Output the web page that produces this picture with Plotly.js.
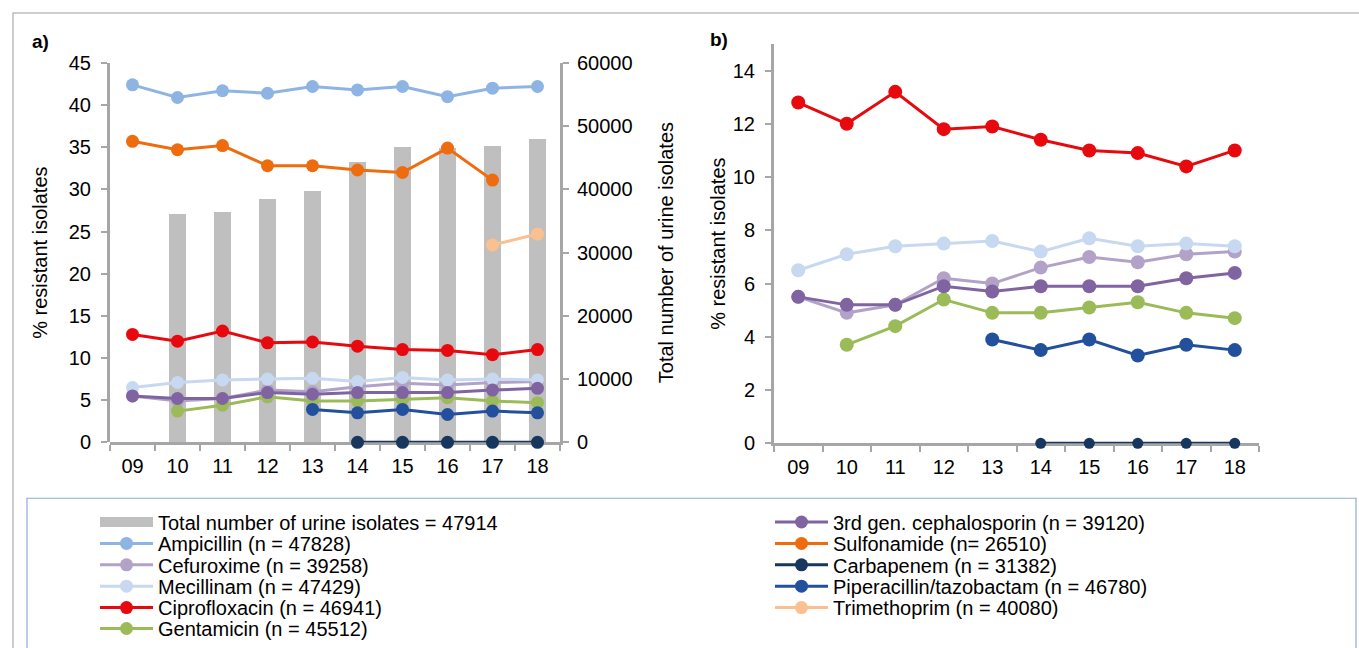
<!DOCTYPE html>
<html>
<head>
<meta charset="utf-8">
<script src="https://cdn.plot.ly/plotly-3.0.1.min.js"></script>
<style>
  html, body { margin: 0; padding: 0; background: #fff; }
  #chart { width: 1359px; height: 648px; }
</style>
</head>
<body>
<div id="chart"></div>
<script>
// Years of surveillance (two-digit labels)
const years = ['09', '10', '11', '12', '13', '14', '15', '16', '17', '18'];

// Total number of urine isolates per year (right axis of panel a)
const totalIsolates = [null, 36100, 36400, 38500, 39800, 44300, 46700, 46500, 46900, 47914];

// % resistant isolates per antibiotic
const ampicillin    = [42.4, 40.9, 41.7, 41.4, 42.2, 41.8, 42.2, 41.0, 42.0, 42.2];
const cefuroxime    = [5.5, 4.9, 5.2, 6.2, 6.0, 6.6, 7.0, 6.8, 7.1, 7.2];
const mecillinam    = [6.5, 7.1, 7.4, 7.5, 7.6, 7.2, 7.7, 7.4, 7.5, 7.4];
const ciprofloxacin = [12.8, 12.0, 13.2, 11.8, 11.9, 11.4, 11.0, 10.9, 10.4, 11.0];
const gentamicin    = [null, 3.7, 4.4, 5.4, 4.9, 4.9, 5.1, 5.3, 4.9, 4.7];
const cephalosporin3 = [5.5, 5.2, 5.2, 5.9, 5.7, 5.9, 5.9, 5.9, 6.2, 6.4];
const sulfonamide   = [35.7, 34.7, 35.2, 32.8, 32.8, 32.3, 32.0, 34.9, 31.1, null];
const carbapenem    = [null, null, null, null, null, 0, 0, 0, 0, 0];
const piperacillinTazobactam = [null, null, null, null, 3.9, 3.5, 3.9, 3.3, 3.7, 3.5];
const trimethoprim  = [null, null, null, null, null, null, null, null, 23.4, 24.7];

// Legend labels
const totalLabel = 'Total number of urine isolates = 47914';
const series = [
  { name: 'Ampicillin (n = 47828)',              y: ampicillin,    color: '#8DB4E2', inB: false },
  { name: 'Cefuroxime (n = 39258)',              y: cefuroxime,    color: '#B3A2C7', inB: true },
  { name: 'Mecillinam (n = 47429)',              y: mecillinam,    color: '#C6D9F1', inB: true },
  { name: 'Ciprofloxacin (n = 46941)',           y: ciprofloxacin, color: '#E8090F', inB: true },
  { name: 'Gentamicin (n = 45512)',              y: gentamicin,    color: '#9BBB59', inB: true },
  { name: '3rd gen. cephalosporin (n = 39120)',  y: cephalosporin3, color: '#8064A2', inB: true },
  { name: 'Sulfonamide (n= 26510)',              y: sulfonamide,   color: '#EE6C0E', inB: false },
  { name: 'Carbapenem (n = 31382)',              y: carbapenem,    color: '#17375E', inB: true, smallB: true },
  { name: 'Piperacillin/tazobactam (n = 46780)', y: piperacillinTazobactam, color: '#23509C', inB: true },
  { name: 'Trimethoprim (n = 40080)',            y: trimethoprim,  color: '#FAC090', inB: false }
];

const W = 1359, H = 648;
const px = v => v / W;
const py = v => 1 - v / H;

const FONT = 'Liberation Sans, Arial, Helvetica, sans-serif';
const AXIS_GREY = '#A6A6A6';

const traces = [];

// Bars: total isolates, panel a, right axis (drawn in the first subplot, under the lines)
traces.push({
  type: 'bar', x: years, y: totalIsolates,
  xaxis: 'x', yaxis: 'y',
  width: 0.38,
  marker: { color: '#BFBFBF' },
  showlegend: false, hoverinfo: 'x+y'
});

// Legend entry for the bars (wide grey swatch); holds no visible point
traces.push({
  type: 'scatter', mode: 'lines', x: [null], y: [null],
  xaxis: 'x3', yaxis: 'y2',
  name: totalLabel,
  line: { color: '#BFBFBF', width: 10 },
  legend: 'legend', showlegend: true, hoverinfo: 'skip'
});

// Legend layout: left column then right column
const legendSlots = [];
const rowY0 = 522, rowStep = 21.4;
for (let i = 0; i < 6; i++) legendSlots.push({ x: 95, y: rowY0 + i * rowStep });
for (let i = 0; i < 5; i++) legendSlots.push({ x: 770, y: rowY0 + i * rowStep });

series.forEach((s, i) => {
  const legendId = 'legend' + (i + 2);
  // panel a: percentage lines in their own subplot stacked over the bars
  traces.push({
    type: 'scatter', mode: 'lines+markers', x: years, y: s.y,
    xaxis: 'x3', yaxis: 'y2',
    name: s.name,
    line: { color: s.color, width: 3 },
    marker: { color: s.color, size: 13 },
    legend: legendId, showlegend: true,
    connectgaps: false, cliponaxis: false
  });
  // panel b
  if (s.inB) {
    traces.push({
      type: 'scatter', mode: 'lines+markers', x: years, y: s.y,
      xaxis: 'x2', yaxis: 'y3',
      name: s.name,
      line: { color: s.color, width: 3 },
      marker: { color: s.color, size: s.smallB ? 11 : 14 },
      showlegend: false, cliponaxis: false
    });
  }
});

const tickFont = { family: FONT, size: 20, color: '#000' };
const titleFont = { family: FONT, size: 20, color: '#000' };

const baseAxis = {
  showline: true, linecolor: AXIS_GREY, linewidth: 3,
  ticks: 'outside', ticklen: 6, tickwidth: 2, tickcolor: AXIS_GREY,
  showgrid: false, zeroline: false, layer: 'below traces',
  tickfont: tickFont, fixedrange: true
};

const panelAx = [px(110), px(560)];
const panelAy = [py(443), py(63)];

const layout = {
  width: W, height: H,
  margin: { l: 0, r: 0, t: 0, b: 0 },
  paper_bgcolor: '#fff', plot_bgcolor: 'rgba(0,0,0,0)',
  font: { family: FONT, size: 20, color: '#000' },
  bargap: 0,
  // panel a, category axis carrying the year labels
  xaxis: Object.assign({}, baseAxis, {
    domain: panelAx, anchor: 'y',
    type: 'category', tickson: 'boundaries', ticklabelstandoff: 4,
    range: [-0.5, 9.5]
  }),
  // panel a, right axis for the totals
  yaxis: Object.assign({}, baseAxis, {
    domain: panelAy, anchor: 'x', side: 'right',
    range: [0, 60000], dtick: 10000, tickformat: 'd', ticklabelstandoff: 4,
    title: { text: 'Total number of urine isolates', font: titleFont, standoff: 28 }
  }),
  // panel a, hidden twin of the year axis for the percentage lines
  xaxis3: {
    domain: panelAx, anchor: 'y2', type: 'category', visible: false,
    range: [-0.5, 9.5], fixedrange: true
  },
  // panel a, left axis for percentages
  yaxis2: Object.assign({}, baseAxis, {
    domain: panelAy, anchor: 'x3', side: 'left',
    range: [0, 45], dtick: 5, ticklabelstandoff: 6,
    title: { text: '% resistant isolates', font: titleFont, standoff: 16 }
  }),
  // panel b
  xaxis2: Object.assign({}, baseAxis, {
    domain: [px(774), px(1259)], anchor: 'y3',
    type: 'category', tickson: 'boundaries', ticklabelstandoff: 4,
    range: [-0.5, 9.5]
  }),
  yaxis3: Object.assign({}, baseAxis, {
    domain: [py(444), py(44)], anchor: 'x2', side: 'left',
    range: [0, 15], tickvals: [0, 2, 4, 6, 8, 10, 12, 14], ticklabelstandoff: 6,
    title: { text: '% resistant isolates', font: titleFont, standoff: 2 }
  }),
  annotations: [
    { text: '<b>a)</b>', xref: 'paper', yref: 'paper', x: px(30), y: py(42),
      xanchor: 'left', yanchor: 'middle', showarrow: false,
      font: { family: FONT, size: 19, color: '#000' } },
    { text: '<b>b)</b>', xref: 'paper', yref: 'paper', x: px(708), y: py(40),
      xanchor: 'left', yanchor: 'middle', showarrow: false,
      font: { family: FONT, size: 19, color: '#000' } }
  ],
  shapes: [
    // outer frame
    { type: 'rect', xref: 'paper', yref: 'paper', x0: px(13), x1: 1.05, y0: -0.05, y1: py(13),
      line: { color: '#BDBDBD', width: 1.5 }, fillcolor: 'rgba(0,0,0,0)', layer: 'below' },
    // legend frame
    { type: 'rect', xref: 'paper', yref: 'paper', x0: px(27), x1: px(1356), y0: -0.05, y1: py(499),
      line: { color: '#8EAADB', width: 1.2 }, fillcolor: 'rgba(0,0,0,0)', layer: 'below' }
  ]
};

// one legend per entry so rows sit at the tight spacing
legendSlots.forEach((slot, i) => {
  const key = i === 0 ? 'legend' : 'legend' + (i + 1);
  layout[key] = {
    x: px(slot.x), y: py(slot.y), xanchor: 'left', yanchor: 'middle',
    xref: 'paper', yref: 'paper',
    bgcolor: 'rgba(0,0,0,0)', borderwidth: 0,
    font: { family: FONT, size: 20, color: '#000' },
    itemwidth: 53, itemclick: false, itemdoubleclick: false
  };
});

Plotly.newPlot('chart', traces, layout, { displayModeBar: false, staticPlot: true });
</script>
</body>
</html>
